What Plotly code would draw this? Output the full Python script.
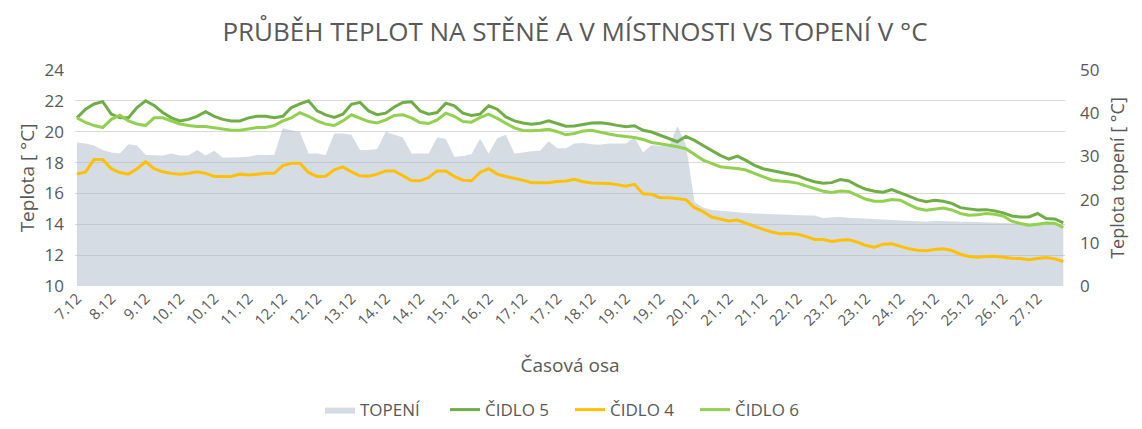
import plotly.graph_objects as go

# x tick labels (every 4th sample)
labels = ["7.12", "8.12", "9.12", "10.12", "10.12", "11.12", "12.12", "12.12", "13.12",
          "14.12", "14.12", "15.12", "16.12", "17.12", "17.12", "18.12", "19.12", "19.12",
          "20.12", "21.12", "21.12", "22.12", "23.12", "23.12", "24.12", "25.12", "25.12",
          "26.12", "27.12"]

topeni = [33.2, 33.0, 32.5, 31.5, 30.9, 30.7, 32.8, 32.5, 30.3, 30.2, 30.2, 30.7, 30.2, 30.2, 31.5,
          30.2, 31.3, 29.7, 29.7, 29.8, 29.9, 30.3, 30.3, 30.4, 36.5, 36.1, 35.6, 30.7, 30.7,
          30.3, 35.3, 35.3, 35.0, 31.5, 31.5, 31.7, 35.7, 35.0, 34.4, 30.7, 30.7, 30.7, 34.4, 34.1,
          29.9, 30.1, 30.5, 34.1, 30.7, 34.2, 35.0, 30.7, 30.9, 31.2, 31.3, 33.5, 31.9, 31.9,
          33.0, 33.1, 32.8, 32.7, 33.0, 33.0, 33.0, 34.4, 30.9, 32.6, 32.5, 32.3, 37.0, 32.7, 19.5,
          18.2, 17.6, 17.4, 17.2, 17.1, 16.9, 16.8, 16.7, 16.6, 16.5, 16.4, 16.4, 16.3, 16.3,
          15.7, 15.9, 16.0, 15.8, 15.7, 15.5, 15.4, 15.4, 15.35, 15.2, 15.0, 15.0, 14.9, 15.1, 15.0,
          14.9, 14.9, 14.9, 14.8, 14.7, 14.6, 14.5, 14.5, 14.5, 14.5, 14.4, 14.4, 14.35, 14.35]

cidlo5 = [20.9, 21.46, 21.8, 21.95, 21.14, 20.9, 20.9, 21.57, 22.0, 21.7, 21.25, 20.9, 20.7, 20.8,
          21.0, 21.3, 21.0, 20.8, 20.7, 20.7, 20.9, 21.0, 21.0, 20.9, 21.0, 21.57, 21.8, 22.0, 21.35,
          21.09, 20.92, 21.14, 21.78, 21.9, 21.35, 21.1, 21.2, 21.6, 21.9, 21.94, 21.35, 21.14,
          21.24, 21.85, 21.68, 21.2, 21.05, 21.14, 21.68, 21.46, 20.96, 20.7, 20.57, 20.49, 20.55,
          20.7, 20.53, 20.36,
          20.37, 20.48, 20.56, 20.58, 20.52, 20.41, 20.32, 20.39, 20.09, 19.98, 19.76, 19.52, 19.35,
          19.7, 19.44, 19.11, 18.81, 18.47, 18.23, 18.42, 18.14, 17.82, 17.6, 17.5, 17.4, 17.28,
          17.15, 16.93, 16.76,
          16.66, 16.7, 16.9, 16.81, 16.51, 16.27, 16.14, 16.08, 16.25, 16.06, 15.82, 15.6, 15.47,
          15.56, 15.49, 15.36, 15.08, 15.0, 14.93, 14.95, 14.87, 14.74, 14.54, 14.48, 14.48, 14.7,
          14.37, 14.35, 14.09]

cidlo4 = [17.25, 17.4, 18.2, 18.2, 17.6, 17.35, 17.25, 17.6, 18.05, 17.6, 17.4, 17.3, 17.25, 17.3,
          17.4, 17.3, 17.1, 17.1, 17.1, 17.25, 17.2, 17.25, 17.3, 17.3, 17.8, 17.96, 17.96, 17.36, 17.1,
          17.12, 17.53, 17.72, 17.4, 17.14, 17.12, 17.25, 17.46, 17.46, 17.14, 16.84, 16.82, 17.03,
          17.46, 17.46, 17.1, 16.86, 16.82, 17.36, 17.6, 17.25, 17.1, 17.0, 16.86, 16.69, 16.71,
          16.69, 16.77, 16.8,
          16.91, 16.76, 16.67, 16.67, 16.65, 16.57, 16.46, 16.59, 15.98, 15.94, 15.72, 15.72, 15.66,
          15.6, 15.08, 14.82, 14.47, 14.32, 14.21, 14.28, 14.06, 13.87, 13.67, 13.5, 13.39, 13.41,
          13.35, 13.22, 13.02,
          13.01, 12.88, 12.97, 12.99, 12.84, 12.62, 12.51, 12.71, 12.73, 12.56, 12.41, 12.32, 12.28,
          12.36, 12.41, 12.3, 12.06, 11.91, 11.87, 11.91, 11.93, 11.87, 11.8, 11.78, 11.71, 11.78,
          11.84, 11.76, 11.59]

cidlo6 = [20.9, 20.6, 20.4, 20.27, 20.8, 21.07, 20.7, 20.5, 20.4, 20.9, 20.9, 20.7, 20.5, 20.4,
          20.34, 20.34, 20.27, 20.2, 20.1, 20.1, 20.2, 20.27, 20.27, 20.4, 20.7, 20.9, 21.24, 21.0, 20.7,
          20.49, 20.4, 20.7, 21.1, 20.9, 20.66, 20.57, 20.77, 21.05, 21.1, 20.9, 20.6, 20.53, 20.77,
          21.2, 21.0, 20.66, 20.62, 20.92, 21.14, 20.86, 20.53, 20.25, 20.08, 20.06, 20.1, 20.16,
          20.0, 19.8,
          19.89, 20.04, 20.09, 19.96, 19.85, 19.76, 19.7, 19.63, 19.5, 19.3, 19.22, 19.14, 19.03,
          18.9, 18.53, 18.16, 17.95, 17.73, 17.67, 17.62, 17.52, 17.3, 17.06, 16.87, 16.8, 16.76,
          16.67, 16.48, 16.28,
          16.14, 16.06, 16.16, 16.12, 15.86, 15.62, 15.49, 15.49, 15.6, 15.56, 15.28, 15.02, 14.91,
          14.98, 15.06, 14.93, 14.7, 14.59, 14.61, 14.7, 14.65, 14.54, 14.2, 14.05, 13.94, 14.0,
          14.09, 14.07, 13.79]

x = list(range(len(cidlo5)))
tick_pos = list(range(0, len(labels) * 4, 4))

FONT = "Open Sans"
GREY_TXT = "#595959"

fig = go.Figure()
# heating area on the primary (right) axis so the sensor lines sit above it
fig.add_trace(go.Scatter(x=x, y=topeni, name="TOPENÍ", mode="lines", fill="tozeroy",
                         line=dict(width=0, color="rgba(173,185,202,0.5)"),
                         fillcolor="rgba(173,185,202,0.5)", yaxis="y"))
fig.add_trace(go.Scatter(x=x, y=cidlo5, name="ČIDLO 5", mode="lines",
                         line=dict(color="#70AD47", width=3), yaxis="y2"))
fig.add_trace(go.Scatter(x=x, y=cidlo4, name="ČIDLO 4", mode="lines",
                         line=dict(color="#FFC000", width=3), yaxis="y2"))
fig.add_trace(go.Scatter(x=x, y=cidlo6, name="ČIDLO 6", mode="lines",
                         line=dict(color="#92D050", width=3), yaxis="y2"))

# page body adds an 8px offset, so the figure is a bit smaller than the window
fig.update_layout(
    width=1134, height=421,
    margin=dict(l=67, r=77, t=62, b=143, autoexpand=False),
    paper_bgcolor="white", plot_bgcolor="white",
    font=dict(family=FONT, color=GREY_TXT),
    title=dict(text="PRŮBĚH TEPLOT NA STĚNĚ A V MÍSTNOSTI VS TOPENÍ V °C",
               x=0.5, xanchor="center", y=0.943, yanchor="middle",
               font=dict(size=26, color=GREY_TXT)),
    xaxis=dict(range=[-0.23, 115.2], tickvals=tick_pos, ticktext=labels, tickangle=-45,
               showgrid=False, zeroline=False, showline=False, ticks="",
               tickfont=dict(size=15), title=dict(text="Časová osa", font=dict(size=19), standoff=30)),
    yaxis=dict(range=[0, 50], dtick=10, side="right", showgrid=False, zeroline=False,
               tickfont=dict(size=17), ticklabelstandoff=14,
               title=dict(text="Teplota topení [ °C]", font=dict(size=18), standoff=12)),
    yaxis2=dict(range=[10, 24], dtick=2, side="left", overlaying="y", showgrid=True,
                gridcolor="#D9D9D9", gridwidth=1, zeroline=False, tickfont=dict(size=17),
                ticklabelstandoff=10,
                title=dict(text="Teplota [ °C]", font=dict(size=19), standoff=4)),
    legend=dict(orientation="h", x=0.5, xanchor="center", yref="container", y=0.045,
                yanchor="middle", font=dict(size=17), traceorder="normal",
                entrywidth=80, entrywidthmode="pixels"),
    showlegend=True,
)

fig.write_html("out.html")
